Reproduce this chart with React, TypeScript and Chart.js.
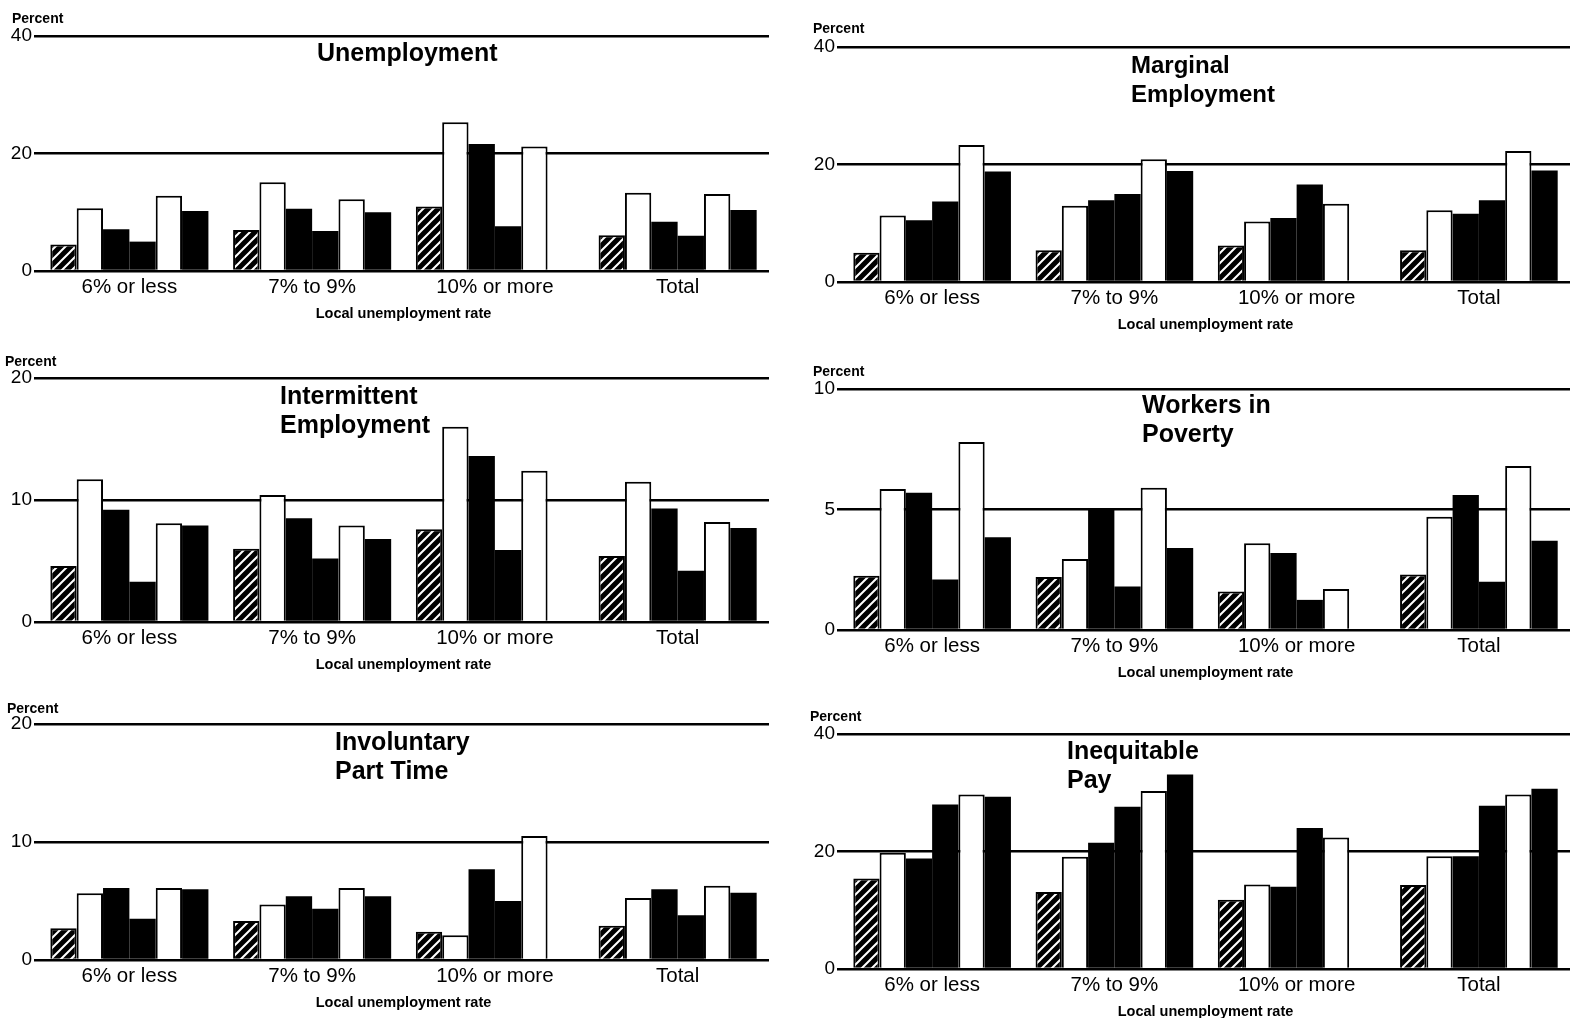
import React, { useEffect, useRef } from "react";
import { Chart, registerables } from "chart.js";

Chart.register(...registerables);

// ---------- data ----------
const categories = ["6% or less", "7% to 9%", "10% or more", "Total"];
const seriesLabels = ["Series 1", "Series 2", "Series 3", "Series 4", "Series 5", "Series 6"];
const seriesFills = ["hatch", "white", "black", "black", "white", "black"];

// rows follow categories, columns follow seriesLabels
const unemployment = [
  [4.5, 10.7, 7.1, 5.0, 12.8, 10.2],
  [7.0, 15.1, 10.6, 6.8, 12.2, 10.0],
  [11.0, 25.3, 21.6, 7.6, 21.2, 0],
  [6.1, 13.3, 8.4, 6.0, 13.1, 10.4],
];
const marginalEmployment = [
  [5.0, 11.3, 10.5, 13.7, 23.3, 18.8],
  [5.4, 13.0, 13.9, 15.0, 20.9, 18.9],
  [6.2, 10.3, 10.9, 16.6, 13.3, 0],
  [5.4, 12.2, 11.6, 13.9, 22.3, 19.0],
];
const intermittentEmployment = [
  [4.6, 11.7, 9.2, 3.3, 8.1, 7.9],
  [6.0, 10.4, 8.5, 5.2, 7.9, 6.8],
  [7.6, 16.0, 13.6, 5.9, 12.4, 0],
  [5.4, 11.5, 9.3, 4.2, 8.2, 7.7],
];
const workersInPoverty = [
  [2.25, 5.85, 5.7, 2.1, 7.8, 3.85],
  [2.2, 2.95, 5.0, 1.8, 5.9, 3.4],
  [1.6, 3.6, 3.2, 1.25, 1.7, 0],
  [2.3, 4.7, 5.6, 2.0, 6.8, 3.7],
];
const involuntaryPartTime = [
  [2.7, 5.65, 6.1, 3.5, 6.1, 6.0],
  [3.3, 4.7, 5.4, 4.35, 6.1, 5.4],
  [2.4, 2.1, 7.7, 5.0, 10.5, 0],
  [2.9, 5.25, 6.0, 3.8, 6.3, 5.7],
];
const inequitablePay = [
  [15.4, 19.8, 18.8, 28.0, 29.7, 29.3],
  [13.1, 19.1, 21.5, 27.6, 30.3, 33.1],
  [11.8, 14.4, 14.0, 24.0, 22.4, 0],
  [14.3, 19.2, 19.2, 27.8, 29.7, 30.7],
];

const ticks40 = [0, 20, 40];
const ticks20 = [0, 10, 20];
const ticks10 = [0, 5, 10];

const axisTitle = "Local unemployment rate";
const unitLabel = "Percent";

// ---------- layout ----------
const FONT = '"Liberation Sans", Arial, Helvetica, sans-serif';
const LEFT_COL = { canvasLeft: 0, width: 776, axisWidth: 38, padRight: 7 };
const RIGHT_COL = { canvasLeft: 790, width: 788, axisWidth: 51, padRight: 8 };
const TOP_PAD = 14;
const X_AXIS_H = 58;

const panels = [
  { rows: unemployment, ticks: ticks40, col: LEFT_COL, top: 36, bottom: 271,
    title: "Unemployment", titleX: 317, titleY: 38, titleSize: 25, titleLH: 29, pctX: 12, pctY: 11 },
  { rows: marginalEmployment, ticks: ticks40, col: RIGHT_COL, top: 47, bottom: 282,
    title: "Marginal\nEmployment", titleX: 1131, titleY: 50, titleSize: 24, titleLH: 29, pctX: 813, pctY: 21 },
  { rows: intermittentEmployment, ticks: ticks20, col: LEFT_COL, top: 378, bottom: 622,
    title: "Intermittent\nEmployment", titleX: 280, titleY: 381, titleSize: 25, titleLH: 29, pctX: 5, pctY: 354 },
  { rows: workersInPoverty, ticks: ticks10, col: RIGHT_COL, top: 389, bottom: 630,
    title: "Workers in\nPoverty", titleX: 1142, titleY: 390, titleSize: 25, titleLH: 29, pctX: 813, pctY: 364 },
  { rows: involuntaryPartTime, ticks: ticks20, col: LEFT_COL, top: 724, bottom: 960,
    title: "Involuntary\nPart Time", titleX: 335, titleY: 727, titleSize: 25, titleLH: 29, pctX: 7, pctY: 701 },
  { rows: inequitablePay, ticks: ticks40, col: RIGHT_COL, top: 734, bottom: 969,
    title: "Inequitable\nPay", titleX: 1067, titleY: 736, titleSize: 25, titleLH: 29, pctX: 810, pctY: 709 },
];

function makeHatch(): CanvasPattern | string {
  const c = document.createElement("canvas");
  c.width = 10;
  c.height = 10;
  const g = c.getContext("2d");
  if (!g) return "#000";
  g.fillStyle = "#000";
  g.fillRect(0, 0, 10, 10);
  g.strokeStyle = "#fff";
  g.lineWidth = 2;
  g.beginPath();
  g.moveTo(0, 10);
  g.lineTo(10, 0);
  g.moveTo(-3, 3);
  g.lineTo(3, -3);
  g.moveTo(7, 13);
  g.lineTo(13, 7);
  g.stroke();
  return g.createPattern(c, "repeat") || "#000";
}

function Panel({ p }: { p: any }) {
  const ref = useRef<HTMLCanvasElement>(null);
  const canvasTop = p.top - TOP_PAD;
  const canvasH = TOP_PAD + (p.bottom - p.top) + X_AXIS_H;

  useEffect(() => {
    const canvas = ref.current;
    if (!canvas) return;
    const hatch = makeHatch();
    const fills: Record<string, any> = { hatch, white: "#fff", black: "#000" };
    const t = p.ticks as number[];
    const chart = new Chart(canvas, {
      type: "bar",
      data: {
        labels: categories,
        datasets: seriesLabels.map((label, j) => ({
          label,
          data: p.rows.map((r: number[]) => r[j]),
          backgroundColor: fills[seriesFills[j]],
          borderColor: "#000",
          borderWidth: seriesFills[j] === "black" ? 0 : 2,
          borderSkipped: "start",
          categoryPercentage: 0.865,
          barPercentage: 1.0,
        })),
      },
      options: {
        responsive: false,
        animation: false,
        devicePixelRatio: 1,
        layout: { padding: { top: TOP_PAD, right: p.col.padRight, bottom: 0, left: 0 } },
        plugins: {
          legend: { display: false },
          tooltip: { enabled: false },
          title: { display: false },
        },
        scales: {
          x: {
            grid: { display: false, drawTicks: false },
            border: { display: false },
            ticks: {
              color: "#000",
              font: { family: FONT, size: 20.5 },
              padding: 4,
              maxRotation: 0,
              autoSkip: false,
            },
            title: {
              display: true,
              text: axisTitle,
              color: "#000",
              font: { family: FONT, size: 14.5, weight: "bold" },
              padding: { top: 0, bottom: 6 },
            },
            afterFit: (s: any) => {
              s.height = X_AXIS_H;
            },
          },
          y: {
            min: t[0],
            max: t[t.length - 1],
            grid: { color: "#000", lineWidth: 2.5, drawTicks: true, tickLength: 4, tickColor: "#000" },
            border: { display: false },
            ticks: {
              color: "#000",
              font: { family: FONT, size: 19 },
              padding: 2,
              stepSize: t[1] - t[0],
            },
            afterFit: (s: any) => {
              s.width = p.col.axisWidth;
            },
          },
        },
      } as any,
    });
    return () => chart.destroy();
  }, []);

  return (
    <>
      <canvas
        ref={ref}
        width={p.col.width}
        height={canvasH}
        style={{ position: "absolute", left: p.col.canvasLeft, top: canvasTop, display: "block" }}
      />
      <div
        style={{
          position: "absolute",
          left: p.titleX,
          top: p.titleY,
          fontFamily: FONT,
          fontWeight: "bold",
          fontSize: p.titleSize,
          lineHeight: p.titleLH + "px",
          whiteSpace: "pre",
          color: "#000",
        }}
      >
        {p.title}
      </div>
      <div
        style={{
          position: "absolute",
          left: p.pctX,
          top: p.pctY,
          fontFamily: FONT,
          fontWeight: "bold",
          fontSize: 14,
          lineHeight: "14px",
          whiteSpace: "pre",
          color: "#000",
        }}
      >
        {unitLabel}
      </div>
    </>
  );
}

export default function App() {
  return (
    <div
      style={{
        position: "fixed",
        left: 0,
        top: 0,
        width: 1578,
        height: 1018,
        overflow: "hidden",
        background: "#fff",
      }}
    >
      {panels.map((p, i) => (
        <Panel key={i} p={p} />
      ))}
    </div>
  );
}
